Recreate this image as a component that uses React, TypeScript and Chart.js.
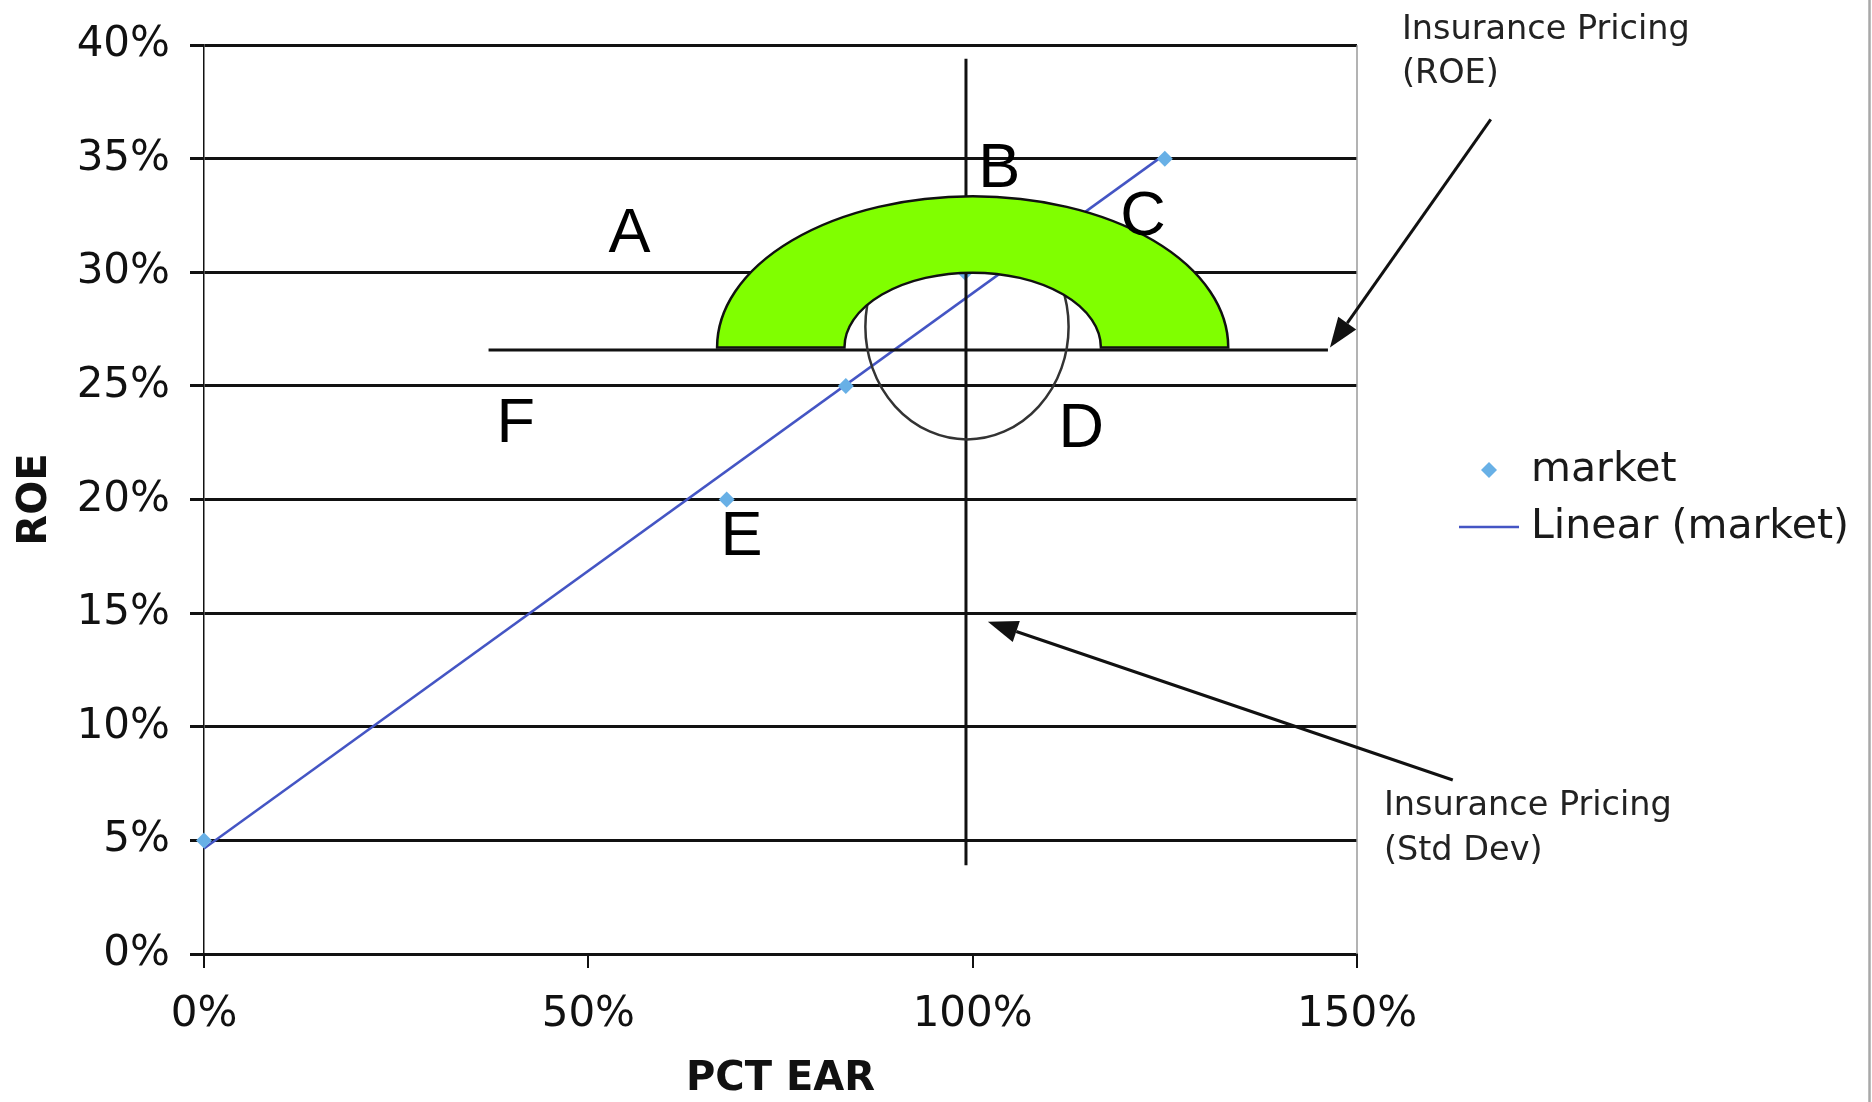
import React, { useEffect, useRef } from "react";
import { Chart, registerables } from "chart.js";

Chart.register(...registerables);

// ---- data ----
const MARKET_PCT_EAR = [0, 0.68, 0.835, 0.99, 1.25];
const MARKET_ROE = [0.05, 0.2, 0.25, 0.3, 0.35];
const X_TICKS = [0, 0.5, 1, 1.5];
const Y_TICKS = [0, 0.05, 0.1, 0.15, 0.2, 0.25, 0.3, 0.35, 0.4];
const SERIES_NAMES = ["market", "Linear (market)"];
const AXIS_TITLES = ["PCT EAR", "ROE"];

// region letters (data coordinates of letter centres)
const REGION_LETTERS = ["A", "B", "C", "D", "E", "F"];
const REGION_X = [0.5537, 1.0346, 1.2217, 1.1411, 0.6992, 0.4055];
const REGION_Y = [0.3191, 0.3477, 0.3266, 0.2331, 0.1857, 0.2353];

// annotation notes
const NOTE_ROE = ["Insurance Pricing", "(ROE)"];
const NOTE_STD = ["Insurance Pricing", "(Std Dev)"];

// annotation geometry in data units
const STD_LINE_X = 0.9913;
const STD_LINE_Y = [0.394, 0.0391];
const ROE_LINE_Y = 0.2659;
const ROE_LINE_X = [0.3702, 1.4622];
const ANNULUS_CENTER = [1.0, 0.267];
const ANNULUS_OUTER = [0.3325, 0.0665];
const ANNULUS_INNER = [0.1668, 0.0329];
const OVAL_CENTER = [0.9926, 0.2761];
const OVAL_RADII = [0.1322, 0.0496];
const ROE_ARROW = [1.674, 0.3674, 1.4648, 0.2669];
const STD_ARROW = [1.6246, 0.0766, 1.0198, 0.1462];
const NOTE_ROE_POS = [1.5584, 0.4028, 0.3832];
const NOTE_STD_POS = [1.535, 0.061, 0.0413];

function linearFit(xs: number[], ys: number[]) {
  const n = xs.length;
  const mx = xs.reduce((a, b) => a + b, 0) / n;
  const my = ys.reduce((a, b) => a + b, 0) / n;
  let sxx = 0;
  let sxy = 0;
  for (let i = 0; i < n; i++) {
    sxx += (xs[i] - mx) * (xs[i] - mx);
    sxy += (xs[i] - mx) * (ys[i] - my);
  }
  const slope = sxy / sxx;
  return { slope, intercept: my - slope * mx };
}

const FONT = "'DejaVu Sans', Verdana, sans-serif";
const LETTER_FONT = "'Liberation Sans', Arial, sans-serif";
const TREND_COLOR = "#4455c4";
const POINT_COLOR = "#68b0e6";
const INK = "#111111";

function drawArrow(ctx: CanvasRenderingContext2D, x1: number, y1: number, x2: number, y2: number) {
  const ang = Math.atan2(y2 - y1, x2 - x1);
  const headLen = 30;
  const headHalf = 11;
  const bx = x2 - headLen * Math.cos(ang);
  const by = y2 - headLen * Math.sin(ang);
  ctx.beginPath();
  ctx.moveTo(x1, y1);
  ctx.lineTo(bx, by);
  ctx.lineWidth = 3;
  ctx.strokeStyle = INK;
  ctx.stroke();
  ctx.beginPath();
  ctx.moveTo(x2, y2);
  ctx.lineTo(bx + headHalf * Math.sin(ang), by - headHalf * Math.cos(ang));
  ctx.lineTo(bx - headHalf * Math.sin(ang), by + headHalf * Math.cos(ang));
  ctx.closePath();
  ctx.fillStyle = INK;
  ctx.fill();
}

const annotationPlugin = {
  id: "annotations",
  beforeDraw(chart: any) {
    const ctx = chart.ctx;
    ctx.save();
    ctx.fillStyle = "#ffffff";
    ctx.fillRect(0, 0, chart.width, chart.height);
    ctx.restore();
  },
  afterDraw(chart: any) {
    const ctx: CanvasRenderingContext2D = chart.ctx;
    const xs = chart.scales.x;
    const ys = chart.scales.y;
    const px = (v: number) => xs.getPixelForValue(v);
    const py = (v: number) => ys.getPixelForValue(v);
    const area = chart.chartArea;
    ctx.save();

    // right border of plot area (grey)
    ctx.beginPath();
    ctx.moveTo(area.right, area.top);
    ctx.lineTo(area.right, area.bottom);
    ctx.lineWidth = 1.5;
    ctx.strokeStyle = "#9a9a9a";
    ctx.stroke();

    // outer chart border on the right
    ctx.beginPath();
    ctx.moveTo(1869.5, 0);
    ctx.lineTo(1869.5, chart.height);
    ctx.lineWidth = 2.5;
    ctx.strokeStyle = "#a8a8a8";
    ctx.stroke();

    // vertical std-dev line
    ctx.beginPath();
    ctx.moveTo(px(STD_LINE_X), py(STD_LINE_Y[0]));
    ctx.lineTo(px(STD_LINE_X), py(STD_LINE_Y[1]));
    ctx.lineWidth = 3;
    ctx.strokeStyle = INK;
    ctx.stroke();

    // horizontal ROE line
    ctx.beginPath();
    ctx.moveTo(px(ROE_LINE_X[0]), py(ROE_LINE_Y));
    ctx.lineTo(px(ROE_LINE_X[1]), py(ROE_LINE_Y));
    ctx.lineWidth = 3;
    ctx.strokeStyle = INK;
    ctx.stroke();

    // oval
    const ocx = px(OVAL_CENTER[0]);
    const ocy = py(OVAL_CENTER[1]);
    const orx = px(OVAL_CENTER[0] + OVAL_RADII[0]) - ocx;
    const ory = ocy - py(OVAL_CENTER[1] + OVAL_RADII[1]);
    ctx.beginPath();
    ctx.ellipse(ocx, ocy, orx, ory, 0, 0, Math.PI * 2);
    ctx.lineWidth = 2.5;
    ctx.strokeStyle = "#333333";
    ctx.stroke();

    // green half annulus
    const acx = px(ANNULUS_CENTER[0]);
    const acy = py(ANNULUS_CENTER[1]);
    const aorx = px(ANNULUS_CENTER[0] + ANNULUS_OUTER[0]) - acx;
    const aory = acy - py(ANNULUS_CENTER[1] + ANNULUS_OUTER[1]);
    const airx = px(ANNULUS_CENTER[0] + ANNULUS_INNER[0]) - acx;
    const airy = acy - py(ANNULUS_CENTER[1] + ANNULUS_INNER[1]);
    ctx.beginPath();
    ctx.ellipse(acx, acy, aorx, aory, 0, Math.PI, Math.PI * 2, false);
    ctx.lineTo(acx + airx, acy);
    ctx.ellipse(acx, acy, airx, airy, 0, 0, Math.PI, true);
    ctx.closePath();
    ctx.fillStyle = "#80ff00";
    ctx.fill();
    ctx.lineWidth = 2.5;
    ctx.strokeStyle = INK;
    ctx.stroke();

    // region letters
    const lsize = 63;
    ctx.font = `${lsize}px ${LETTER_FONT}`;
    ctx.fillStyle = "#000000";
    ctx.textAlign = "center";
    ctx.textBaseline = "alphabetic";
    REGION_LETTERS.forEach((t, i) => {
      ctx.fillText(t, px(REGION_X[i]), py(REGION_Y[i]) + 0.358 * lsize);
    });

    // arrows
    drawArrow(ctx, px(ROE_ARROW[0]), py(ROE_ARROW[1]), px(ROE_ARROW[2]), py(ROE_ARROW[3]));
    drawArrow(ctx, px(STD_ARROW[0]), py(STD_ARROW[1]), px(STD_ARROW[2]), py(STD_ARROW[3]));

    // notes
    ctx.font = `33.5px ${FONT}`;
    ctx.fillStyle = "#222222";
    ctx.textAlign = "left";
    ctx.textBaseline = "alphabetic";
    ctx.fillText(NOTE_ROE[0], px(NOTE_ROE_POS[0]), py(NOTE_ROE_POS[1]));
    ctx.fillText(NOTE_ROE[1], px(NOTE_ROE_POS[0]), py(NOTE_ROE_POS[2]));
    ctx.fillText(NOTE_STD[0], px(NOTE_STD_POS[0]), py(NOTE_STD_POS[1]));
    ctx.fillText(NOTE_STD[1], px(NOTE_STD_POS[0]), py(NOTE_STD_POS[2]));

    // legend
    const lx = area.right + 102;
    const ly1 = 470;
    const ly2 = 527;
    ctx.beginPath();
    ctx.moveTo(lx + 30, ly1 - 8);
    ctx.lineTo(lx + 38, ly1);
    ctx.lineTo(lx + 30, ly1 + 8);
    ctx.lineTo(lx + 22, ly1);
    ctx.closePath();
    ctx.fillStyle = POINT_COLOR;
    ctx.fill();
    ctx.beginPath();
    ctx.moveTo(lx, ly2);
    ctx.lineTo(lx + 60, ly2);
    ctx.lineWidth = 2.5;
    ctx.strokeStyle = TREND_COLOR;
    ctx.stroke();
    ctx.font = `41px ${FONT}`;
    ctx.fillStyle = "#1a1a1a";
    ctx.textBaseline = "middle";
    ctx.fillText(SERIES_NAMES[0], lx + 72, ly1);
    ctx.fillText(SERIES_NAMES[1], lx + 72, ly2);

    ctx.restore();
  },
};

export default function App() {
  const canvasRef = useRef<HTMLCanvasElement | null>(null);

  useEffect(() => {
    if (!canvasRef.current) return;
    const fit = linearFit(MARKET_PCT_EAR, MARKET_ROE);
    const tx = [Math.min(...MARKET_PCT_EAR), Math.max(...MARKET_PCT_EAR)];
    const trend = tx.map((x) => ({ x, y: fit.intercept + fit.slope * x }));
    const pct = (v: any) => `${Math.round(Number(v) * 100)}%`;

    const chart = new Chart(canvasRef.current, {
      type: "scatter",
      data: {
        datasets: [
          {
            label: SERIES_NAMES[0],
            data: MARKET_PCT_EAR.map((x, i) => ({ x, y: MARKET_ROE[i] })),
            showLine: false,
            pointStyle: "rectRot",
            pointRadius: 8,
            pointBackgroundColor: POINT_COLOR,
            pointBorderWidth: 0,
            clip: false,
            order: 0,
          },
          {
            label: SERIES_NAMES[1],
            data: trend,
            showLine: true,
            borderColor: TREND_COLOR,
            borderWidth: 2.5,
            pointRadius: 0,
            clip: false,
            order: 1,
          },
        ],
      } as any,
      options: {
        animation: false,
        responsive: false,
        devicePixelRatio: 1,
        events: [],
        layout: { padding: { top: 43, right: 515, bottom: 0, left: 0 } },
        plugins: {
          legend: { display: false },
          tooltip: { enabled: false },
        },
        scales: {
          x: {
            type: "linear",
            position: "bottom",
            min: 0,
            max: 1.5,
            afterBuildTicks: (s: any) => {
              s.ticks = X_TICKS.map((v) => ({ value: v }));
            },
            afterFit: (s: any) => {
              s.height = 148;
            },
            grid: { drawOnChartArea: false, drawTicks: true, tickLength: 14, color: INK, lineWidth: 2 },
            border: { display: true, color: INK, width: 3 },
            ticks: {
              padding: 22,
              autoSkip: false,
              maxRotation: 0,
              color: "#111111",
              font: { family: FONT, size: 42 },
              callback: pct,
            },
            title: {
              display: true,
              text: AXIS_TITLES[0],
              color: INK,
              font: { family: FONT, size: 40, weight: "bold", lineHeight: 1 },
              padding: { top: 0, bottom: 2 },
            },
          },
          y: {
            type: "linear",
            min: 0,
            max: 0.4,
            afterBuildTicks: (s: any) => {
              s.ticks = Y_TICKS.map((v) => ({ value: v }));
            },
            afterFit: (s: any) => {
              s.width = 204;
            },
            grid: { drawTicks: true, tickLength: 14, color: INK, lineWidth: 3 },
            border: { display: true, color: INK, width: 1.5 },
            ticks: {
              padding: 20,
              autoSkip: false,
              color: "#111111",
              font: { family: FONT, size: 42 },
              callback: pct,
            },
            title: {
              display: true,
              text: AXIS_TITLES[1],
              color: INK,
              font: { family: FONT, size: 40, weight: "bold", lineHeight: 1.2 },
              padding: { top: 12, bottom: 0 },
            },
          },
        },
      } as any,
      plugins: [annotationPlugin],
    });
    return () => chart.destroy();
  }, []);

  return (
    <div style={{ position: "absolute", left: 0, top: 0, width: 1872, height: 1102, background: "#fff" }}>
      <canvas ref={canvasRef} width={1872} height={1102} style={{ display: "block", width: 1872, height: 1102 }} />
    </div>
  );
}
